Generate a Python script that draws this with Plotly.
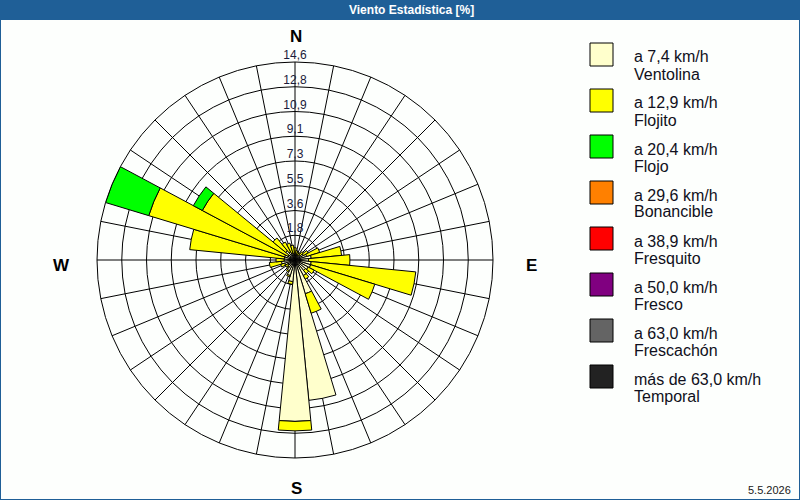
import plotly.graph_objects as go

# ---------------- data ----------------
directions = [i * 11.25 for i in range(32)]
ventolina = [0.5, 0.4, 0.4, 0.4, 0.5, 0.7, 0.9, 1.2, 1.0, 1.2, 1.2, 1.1, 1.0, 1.3, 2.6, 10.4,
             11.9, 1.6, 1.2, 0.9, 0.7, 0.6, 0.8, 1.0, 0.8, 0.8, 0.8, 0.6, 0.9, 0.7, 0.5, 0.5]
flojito = [0.4, 0.3, 0.2, 0.2, 0.3, 0.4, 1.0, 2.25, 3.05, 7.75, 4.95, 0.5, 0.3, 0.3, 1.5, 0.0,
           0.7, 0.2, 0.1, 0.1, 0.1, 0.2, 0.3, 0.9, 0.6, 7.0, 10.47, 7.15, 1.2, 0.8, 0.8, 0.6]
flojo = [0.0] * 26 + [3.33, 0.75] + [0.0] * 4

radial_ticks = [1.825 * k for k in range(1, 9)]
radial_labels = ["1,8", "3,6", "5,5", "7,3", "9,1", "10,9", "12,8", "14,6"]

legend_speeds = ["a 7,4 km/h", "a 12,9 km/h", "a 20,4 km/h", "a 29,6 km/h",
                 "a 38,9 km/h", "a 50,0 km/h", "a 63,0 km/h", "más de 63,0 km/h"]
legend_names = ["Ventolina", "Flojito", "Flojo", "Bonancible",
                "Fresquito", "Fresco", "Frescachón", "Temporal"]
legend_colors = ["#FFFFCC", "#FFFF00", "#00FF00", "#FF8000",
                 "#FF0000", "#800080", "#646464", "#222222"]

compass = ["N", "E", "S", "W"]

W, H = 800, 500
BLUE = "#1F5F97"
FONT = "Liberation Sans, Arial, sans-serif"
BG = "#FDFFFD"

fig = go.Figure()

series = [ventolina, flojito, flojo]
for vals, name, col in zip(series, legend_names[:3], legend_colors[:3]):
    fig.add_trace(go.Barpolar(
        r=vals, theta=directions, width=[11.25] * len(directions),
        name=name, marker=dict(color=col, line=dict(color="black", width=1)),
        showlegend=False, hoverinfo="skip"))

# radial tick labels along the north spoke
fig.add_trace(go.Scatterpolar(
    r=radial_ticks, theta=[0] * len(radial_ticks), mode="text",
    text=radial_labels, textposition="top center",
    textfont=dict(family=FONT, size=12, color="#1a1a3a"),
    showlegend=False, hoverinfo="skip"))

cx0, cx1 = 97 / W, 493 / W
cy0, cy1 = 1 - 458 / H, 1 - 62 / H

fig.update_layout(
    width=W, height=H,
    margin=dict(l=0, r=0, t=0, b=0),
    paper_bgcolor=BG,
    plot_bgcolor=BG,
    showlegend=False,
    polar=dict(
        domain=dict(x=[cx0, cx1], y=[cy0, cy1]),
        bgcolor=BG,
        barmode="stack",
        angularaxis=dict(direction="clockwise", rotation=90, dtick=11.25,
                         showticklabels=False, ticks="", showline=True,
                         linecolor="black", linewidth=1,
                         gridcolor="black", gridwidth=1),
        radialaxis=dict(range=[0, 14.6], tickvals=radial_ticks,
                        showticklabels=False, ticks="", showline=False,
                        gridcolor="black", gridwidth=1),
    ),
)

shapes = []
annotations = []
# title bar
shapes.append(dict(type="rect", xref="paper", yref="paper", x0=0, x1=1,
                   y0=1 - 20 / H, y1=1, fillcolor=BLUE, line=dict(width=0), layer="above"))
annotations.append(dict(x=411 / W, y=1 - 10 / H, xref="paper", yref="paper",
                        text="<b>Viento Estadística [%]</b>", showarrow=False,
                        font=dict(family=FONT, size=12, color="white"),
                        xanchor="center", yanchor="middle"))
# outer frame
shapes.append(dict(type="rect", xref="paper", yref="paper", x0=0, x1=1, y0=0, y1=1,
                   line=dict(color=BLUE, width=2), fillcolor="rgba(0,0,0,0)"))

# compass labels
pos = {"N": (296, 37), "E": (531, 265), "S": (296, 488), "W": (61, 265)}
for c in compass:
    px, py = pos[c]
    annotations.append(dict(x=px / W, y=1 - py / H, xref="paper", yref="paper",
                            text="<b>%s</b>" % c, showarrow=False,
                            font=dict(family=FONT, size=17, color="black"),
                            xanchor="center", yanchor="middle"))

# custom legend
for i, (sp, nm, col) in enumerate(zip(legend_speeds, legend_names, legend_colors)):
    top = 43 + i * 46
    shapes.append(dict(type="rect", xref="paper", yref="paper",
                       x0=590 / W, x1=613 / W, y0=1 - (top + 23) / H, y1=1 - top / H,
                       fillcolor=col, line=dict(color="black", width=1)))
    annotations.append(dict(x=632 / W, y=1 - (top + 14) / H, xref="paper", yref="paper",
                            text=sp, showarrow=False, xanchor="left", yanchor="middle",
                            font=dict(family=FONT, size=16, color="#101020")))
    annotations.append(dict(x=632 / W, y=1 - (top + 31) / H, xref="paper", yref="paper",
                            text=nm, showarrow=False, xanchor="left", yanchor="middle",
                            font=dict(family=FONT, size=16, color="#101020")))

# date
annotations.append(dict(x=793 / W, y=1 - 490 / H, xref="paper", yref="paper",
                        text="5.5.2026", showarrow=False, xanchor="right", yanchor="middle",
                        font=dict(family=FONT, size=11, color="#202020")))

fig.update_layout(shapes=shapes, annotations=annotations)
fig.write_html("out.html",
               config={"displayModeBar": False},
               post_script="document.body.style.margin='0';document.body.style.overflow='hidden';")
